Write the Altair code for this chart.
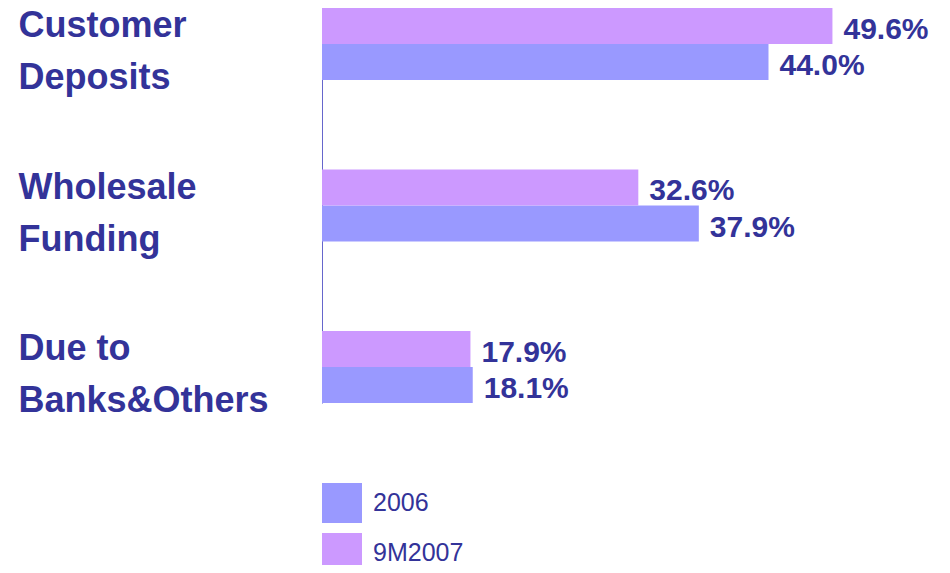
import altair as alt
import pandas as pd

categories = ["Customer Deposits", "Wholesale Funding", "Due to Banks&Others"]
series = ["2006", "9M2007"]
values_2006 = [44.0, 37.9, 18.1]
values_9m2007 = [49.6, 32.6, 17.9]
colors = ["#9999FF", "#CC99FF"]

rows = []
for c, v in zip(categories, values_2006):
    rows.append({"category": c, "series": "2006", "value": v, "label": f"{v:.1f}%"})
for c, v in zip(categories, values_9m2007):
    rows.append({"category": c, "series": "9M2007", "value": v, "label": f"{v:.1f}%"})
df = pd.DataFrame(rows)

TEXT = "#333399"
FONT = "Liberation Sans"

x_scale = alt.Scale(domain=[4.9, 53.94], zero=False, nice=False)
y_enc = alt.Y(
    "category:N",
    sort=categories,
    scale=alt.Scale(paddingInner=0.554, paddingOuter=0),
    axis=alt.Axis(
        title=None,
        ticks=False,
        domain=True,
        domainColor="#6666CC",
        domainWidth=1,
        labelAlign="left",
        labelBaseline="middle",
        labelPadding=304,
        labelOffset=-18,
        labelFontSize=36,
        labelFontWeight="bold",
        labelColor=TEXT,
        labelFont=FONT,
        labelLineHeight=52,
        labelLimit=400,
        labelExpr="datum.label == 'Due to Banks&Others' ? ['Due to', 'Banks&Others'] : split(datum.label, ' ')",
    ),
)
yoff = alt.YOffset("series:N", sort=["9M2007", "2006"], scale=alt.Scale(paddingInner=0, paddingOuter=0))

bars = alt.Chart(df).mark_bar(size=36, clip=True).encode(
    x=alt.X("value:Q", scale=x_scale, axis=None),
    y=y_enc,
    yOffset=yoff,
    color=alt.Color(
        "series:N",
        scale=alt.Scale(domain=series, range=colors),
        legend=alt.Legend(
            title=None,
            orient="none",
            legendX=0,
            legendY=475,
            padding=0,
            symbolType="square",
            symbolSize=1600,
            symbolStrokeWidth=0,
            symbolOpacity=1,
            labelFontSize=25,
            labelColor=TEXT,
            labelFont=FONT,
            labelOffset=11,
            rowPadding=10,
        ),
    ),
)

labels = alt.Chart(df).mark_text(
    align="left", baseline="middle", dx=11, dy=4,
    fontSize=30, fontWeight="bold", color=TEXT, font=FONT,
).encode(
    x=alt.X("value:Q", scale=x_scale, axis=None),
    y=y_enc,
    yOffset=yoff,
    text="label:N",
)

chart = alt.layer(bars, labels).properties(
    width=560,
    height=395,
    background="white",
    autosize=alt.AutoSizeParams(type="none"),
    padding={"left": 314, "top": 0, "right": 60, "bottom": 162},
).configure_view(stroke=None)

chart.save("out.html", embed_options={"renderer": "svg", "actions": False})
